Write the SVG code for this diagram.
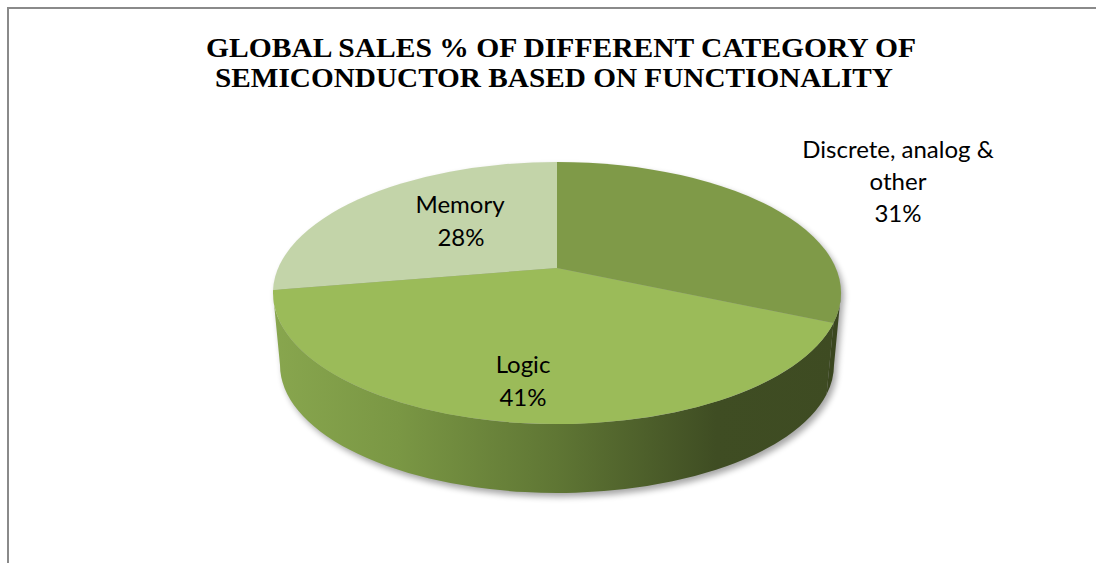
<svg xmlns="http://www.w3.org/2000/svg" width="1096" height="563" viewBox="0 0 1096 563">
  <defs>
    <style>
      .title { font-family: "Liberation Serif", "Times New Roman", serif; font-weight: bold; font-size: 27px; fill: #000; }
      .label { font-family: "Lato", "Open Sans", sans-serif; font-size: 24px; fill: #000; text-anchor: middle; }
    </style>
    <!-- shading across the rim of the pie, light at left to dark at right -->
    <linearGradient id="rimShade" gradientUnits="userSpaceOnUse" x1="273" y1="0" x2="841" y2="0">
      <stop offset="0" stop-color="#88a64e"/>
      <stop offset="0.22" stop-color="#7a9744"/>
      <stop offset="0.5" stop-color="#5f7634"/>
      <stop offset="0.78" stop-color="#3f4d23"/>
      <stop offset="1" stop-color="#3e4b22"/>
    </linearGradient>
    <filter id="softShadow" x="-10%" y="-10%" width="120%" height="130%">
      <feGaussianBlur stdDeviation="3"/>
    </filter>
  </defs>

  <rect x="0" y="0" width="1096" height="563" fill="#ffffff"/>

  <!-- chart area frame -->
  <path d="M 8 563 V 8 H 1096" fill="none" stroke="#8a8a8a" stroke-width="2"/>

  <!-- title -->
  <g id="title">
    <text class="title" x="206" y="57" textLength="710" lengthAdjust="spacingAndGlyphs">GLOBAL SALES % OF DIFFERENT CATEGORY OF</text>
    <text class="title" x="215" y="87" textLength="678" lengthAdjust="spacingAndGlyphs">SEMICONDUCTOR BASED ON FUNCTIONALITY</text>
  </g>

  <!-- drop shadow under the pie -->
  <path d="M 273 293 A 284 131 0 0 1 841 293 L 834 365 A 277 128 0 0 1 280 365 Z"
        transform="translate(3,4)" fill="#000" opacity="0.35" filter="url(#softShadow)"/>

  <!-- rim (side wall) -->
  <g id="rim">
    <path d="M 273 293 A 284 131 0 0 0 833.5 323 L 826.6 394.3 A 277 128 0 0 1 280 365 Z" fill="url(#rimShade)"/>
    <path d="M 833.5 323 A 284 131 0 0 0 841 293 L 834 365 A 277 128 0 0 1 826.6 394.3 Z" fill="#3a461f"/>
  </g>

  <!-- top faces of the slices -->
  <g id="slice-memory">
    <path d="M 557 268 L 557 162 A 284 131 0 0 0 273.07 290 Z" fill="#c3d4a9"/>
    <text class="label" x="460" y="213">Memory</text>
    <text class="label" x="461" y="246">28%</text>
  </g>
  <g id="slice-logic">
    <path d="M 557 268 L 273.07 290 A 284 131 0 0 0 833.5 323 Z" fill="#9bbb59"/>
    <text class="label" x="523" y="373">Logic</text>
    <text class="label" x="523" y="406">41%</text>
  </g>
  <g id="slice-discrete">
    <path d="M 557 268 L 557 162 A 284 131 0 0 1 833.5 323 Z" fill="#7f9a48"/>
    <text class="label" x="898" y="158">Discrete, analog &amp;</text>
    <text class="label" x="898" y="190">other</text>
    <text class="label" x="898" y="222">31%</text>
  </g>
</svg>
